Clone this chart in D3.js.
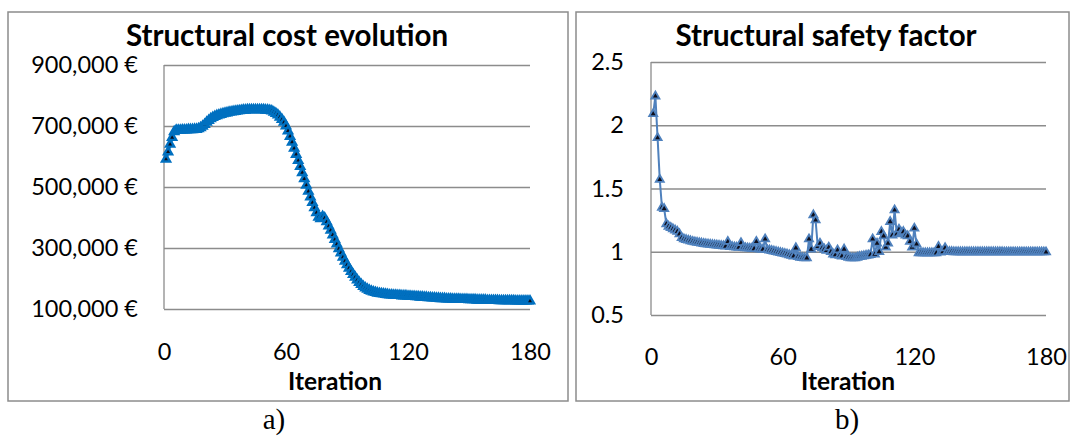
<!DOCTYPE html>
<html>
<head>
<meta charset="utf-8">
<script src="https://cdn.jsdelivr.net/npm/d3@7"></script>
<style>
  body { margin: 0; background: #fff; }
  svg { display: block; }
</style>
</head>
<body>
<svg id="chart" width="1071" height="436"></svg>
<script>
// Iteration numbers (x values)
const iterations = d3.range(1, 181);

// Structural cost per iteration, thousands of €
const costK = [
  591, 615, 640, 662, 681, 686, 686, 686, 687, 687,
  687, 688, 688, 688, 689, 689, 691, 694, 699, 705,
  712, 718, 724, 728, 731, 734, 736, 738, 740, 742,
  743, 745, 746, 747, 748, 749, 750, 751, 752, 752,
  753, 753, 753, 753, 753, 753, 753, 753, 753, 752,
  752, 751, 749, 745, 741, 736, 729, 721, 712, 700,
  684, 666, 647, 627, 607, 587, 567, 547, 527, 506,
  486, 467, 449, 432, 416, 401, 396, 403, 398, 386,
  372, 358, 343, 328, 313, 298, 284, 270, 257, 245,
  234, 223, 213, 204, 195, 187, 180, 174, 169, 165,
  161, 158, 156, 154, 152, 151, 150, 149, 148, 147,
  146, 146, 145, 145, 144, 144, 143, 143, 143, 142,
  142, 141, 141, 140, 140, 139, 139, 138, 138, 137,
  137, 136, 136, 135, 135, 134, 134, 134, 133, 133,
  133, 132, 132, 132, 132, 131, 131, 131, 131, 130,
  130, 130, 130, 129, 129, 129, 129, 129, 128, 128,
  128, 128, 128, 128, 127, 127, 127, 127, 127, 127,
  127, 127, 126, 126, 126, 126, 126, 126, 126, 126
];

// Structural safety factor per iteration
const safety = [
  2.09, 2.23, 1.90, 1.57, 1.35, 1.34, 1.22, 1.20, 1.19, 1.18,
  1.17, 1.16, 1.14, 1.11, 1.10, 1.095, 1.09, 1.085, 1.08, 1.076,
  1.073, 1.07, 1.067, 1.064, 1.061, 1.059, 1.057, 1.055, 1.053, 1.051,
  1.049, 1.047, 1.045, 1.043, 1.08, 1.04, 1.039, 1.037, 1.035, 1.034,
  1.07, 1.032, 1.03, 1.029, 1.027, 1.026, 1.024, 1.08, 1.022, 1.02,
  1.019, 1.10, 1.015, 1.012, 1.008, 1.004, 1.0, 0.996, 0.992, 0.988,
  0.984, 0.98, 0.975, 0.97, 0.965, 1.03, 0.96, 0.955, 0.952, 0.95,
  0.95, 1.10, 1.02, 1.29, 1.25, 1.04, 1.066, 1.03, 1.02, 1.01,
  1.035, 1.0, 0.98, 0.975, 1.013, 0.97, 0.965, 1.02, 0.96, 0.955,
  0.95, 0.95, 0.95, 0.955, 0.96, 0.963, 0.966, 0.97, 0.973, 0.976,
  1.10, 0.98, 1.066, 1.0, 1.158, 1.124, 1.035, 1.066, 1.237, 1.13,
  1.329, 1.14, 1.177, 1.15, 1.158, 1.13, 1.124, 1.08, 1.035, 1.185,
  1.06, 0.99, 0.99, 0.99, 0.99, 0.99, 0.99, 0.99, 0.99, 0.99,
  1.04, 0.995, 1.0, 1.03, 1.0, 1.0, 1.0, 0.998, 0.998, 0.998,
  0.998, 0.998, 0.998, 0.998, 0.998, 0.998, 0.998, 0.998, 0.998, 0.998,
  0.998, 0.998, 0.998, 0.998, 0.998, 0.998, 0.998, 0.998, 0.998, 0.998,
  0.997, 0.997, 0.997, 0.997, 0.997, 0.997, 0.997, 0.997, 0.997, 0.997,
  0.997, 0.997, 0.997, 0.997, 0.997, 0.997, 0.997, 0.997, 0.997, 0.997
];

const xTicks = [0, 60, 120, 180];
const costTicks = [100, 300, 500, 700, 900];
const safetyTicks = [0.5, 1, 1.5, 2, 2.5];

const svg = d3.select("#chart");
const gridColor = "#8c8c8c";
const labelFont = "Lato, 'Open Sans', sans-serif";

function renderPanel(opt) {
    const g = svg.append("g");
    const p = opt.plot;

    // panel frame
    g.append("rect")
        .attr("x", opt.box[0]).attr("y", opt.box[1])
        .attr("width", opt.box[2] - opt.box[0])
        .attr("height", opt.box[3] - opt.box[1])
        .attr("fill", "none")
        .attr("stroke", gridColor)
        .attr("stroke-width", 1.5);

    const x = d3.scaleLinear().domain([0, 180]).range([p.left, p.right]);
    const y = d3.scaleLinear().domain(opt.yDomain).range([p.bottom, p.top]);

    // horizontal gridlines
    g.append("g")
        .attr("transform", `translate(${p.left},0)`)
        .call(d3.axisLeft(y).tickValues(opt.yTicks).tickSize(-(p.right - p.left)).tickFormat(""))
        .call(a => a.select(".domain").remove())
        .call(a => a.selectAll("line").attr("stroke", gridColor).attr("stroke-width", 1.3));

    // vertical axis line
    g.append("line")
        .attr("x1", p.left).attr("x2", p.left)
        .attr("y1", p.top).attr("y2", p.bottom)
        .attr("stroke", gridColor).attr("stroke-width", 1.3);

    // y tick labels
    g.append("g")
        .attr("transform", `translate(${p.left},0)`)
        .call(d3.axisLeft(y).tickValues(opt.yTicks).tickSize(0).tickPadding(opt.yPad).tickFormat(opt.yFormat))
        .call(a => a.select(".domain").remove())
        .attr("font-family", labelFont)
        .attr("font-size", 23.5)
        .selectAll("text").attr("fill", "#000");

    // x tick labels
    g.append("g")
        .attr("transform", `translate(0,${p.bottom})`)
        .call(d3.axisBottom(x).tickValues(xTicks).tickSize(0).tickPadding(opt.xPad))
        .call(a => a.select(".domain").remove())
        .attr("font-family", labelFont)
        .attr("font-size", 23.5)
        .selectAll("text").attr("fill", "#000");

    // series line
    const line = d3.line()
        .x((d, i) => x(iterations[i]))
        .y(d => y(d));

    g.append("path")
        .datum(opt.values)
        .attr("fill", "none")
        .attr("stroke", opt.color)
        .attr("stroke-width", opt.lineWidth)
        .attr("stroke-linejoin", "round")
        .attr("d", line);

    // triangle markers
    const tri = d3.symbol().type(d3.symbolTriangle).size(opt.markerSize);
    g.append("g")
        .selectAll("path")
        .data(opt.values)
        .join("path")
        .attr("transform", (d, i) => `translate(${x(iterations[i])},${y(d)})`)
        .attr("d", tri)
        .attr("fill", "#0d0d1a")
        .attr("stroke", opt.color)
        .attr("stroke-width", opt.markerStroke);

    // title
    g.append("text")
        .attr("x", opt.titleX).attr("y", 46)
        .attr("text-anchor", "middle")
        .attr("font-family", labelFont)
        .attr("font-weight", "bold")
        .attr("font-size", 29.5)
        .text(opt.title);

    // x axis title
    g.append("text")
        .attr("x", opt.iterX).attr("y", 390)
        .attr("text-anchor", "middle")
        .attr("font-family", labelFont)
        .attr("font-weight", "bold")
        .attr("font-size", 24.5)
        .text("Iteration");

    // caption under panel
    g.append("text")
        .attr("x", opt.captionX).attr("y", 429)
        .attr("text-anchor", "middle")
        .attr("font-family", "'Liberation Serif', 'Times New Roman', serif")
        .attr("font-size", 29)
        .text(opt.caption);
}

renderPanel({
    box: [8, 12, 568, 401],
    plot: { left: 164, right: 530, top: 65, bottom: 309 },
    yDomain: [100, 900],
    yTicks: costTicks,
    yFormat: d => d3.format(",")(d * 1000) + " €",
    yPad: 26,
    xPad: 34,
    values: costK,
    color: "#0070C0",
    lineWidth: 3.2,
    markerSize: 28,
    markerStroke: 2.4,
    title: "Structural cost evolution",
    titleX: 287,
    iterX: 335,
    caption: "a)",
    captionX: 274
});

renderPanel({
    box: [576, 12, 1069, 401],
    plot: { left: 651, right: 1046, top: 62, bottom: 315 },
    yDomain: [0.5, 2.5],
    yTicks: safetyTicks,
    yFormat: d => String(d),
    yPad: 27,
    xPad: 33,
    values: safety,
    color: "#4F81BD",
    lineWidth: 2,
    markerSize: 28,
    markerStroke: 1.8,
    title: "Structural safety factor",
    titleX: 826,
    iterX: 848,
    caption: "b)",
    captionX: 847
});
</script>
</body>
</html>
